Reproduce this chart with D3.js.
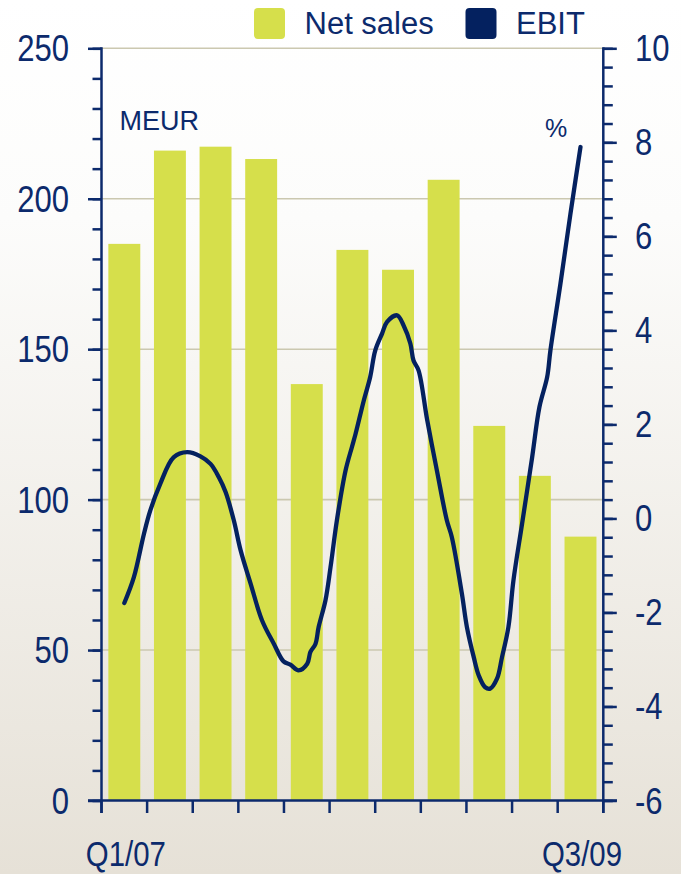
<!DOCTYPE html>
<html><head><meta charset="utf-8">
<script src="https://cdn.jsdelivr.net/npm/d3@7"></script>
<style>html,body{margin:0;padding:0;background:#fff;} svg{display:block;}</style>
</head><body><svg id="c" width="681" height="874"></svg>
<script>
// ---- data ----
const quarters = ["Q1/07","Q2/07","Q3/07","Q4/07","Q1/08","Q2/08","Q3/08","Q4/08","Q1/09","Q2/09","Q3/09"];
const netSales = [185, 216, 217.3, 213.2, 138.4, 183, 176.4, 206.3, 124.5, 107.9, 87.7];
const ebitPos = [0, 0.21, 0.43, 0.57, 0.79, 1.08, 1.38, 1.67, 1.89, 2.07, 2.22, 2.40, 2.55, 2.77, 3.02, 3.28, 3.49, 3.64, 3.82, 4.01, 4.08, 4.19, 4.26, 4.41, 4.52, 4.66, 4.85, 4.99, 5.07, 5.25, 5.39, 5.50, 5.65, 5.76, 5.98, 6.12, 6.27, 6.34, 6.45, 6.64, 6.86, 7.07, 7.18, 7.40, 7.51, 7.66, 7.77, 7.91, 8.02, 8.17, 8.28, 8.42, 8.53, 8.72, 8.94, 9.10, 9.27, 9.34, 9.56, 9.78, 10];
const ebitPct = [-1.80, -1.25, -0.33, 0.17, 0.74, 1.30, 1.41, 1.32, 1.16, 0.88, 0.56, -0.04, -0.68, -1.39, -2.17, -2.67, -3.04, -3.11, -3.23, -3.09, -2.84, -2.67, -2.31, -1.74, -1.04, -0.04, 1.02, 1.52, 1.80, 2.51, 3.01, 3.57, 3.93, 4.18, 4.32, 4.11, 3.72, 3.36, 3.15, 2.09, 0.98, -0.04, -0.40, -1.60, -2.31, -2.95, -3.34, -3.59, -3.62, -3.41, -2.95, -2.31, -1.32, -0.11, 1.30, 2.37, 3.01, 3.57, 4.99, 6.48, 7.90];
const leftTicks = [0, 50, 100, 150, 200, 250];
const rightTicks = [-6, -4, -2, 0, 2, 4, 6, 8, 10];
const xLabels = ["Q1/07", "Q3/09"];
const legendItems = ["Net sales", "EBIT"];
const leftUnit = "MEUR", rightUnit = "%";

// ---- styles ----
const NAVY = "#0c2a6c", LINE = "#04215f", BAR = "#d6df4b", GRID = "#cbc8b0";
const REG = "'Liberation Sans',Arial,sans-serif";
const NARROW_SCALE = 0.84;

const svg = d3.select("#c");
const defs = svg.append("defs");
const grad = defs.append("linearGradient").attr("id","bg").attr("x1",0).attr("y1",0).attr("x2",0).attr("y2",1);
grad.append("stop").attr("offset","0%").attr("stop-color","#ffffff");
grad.append("stop").attr("offset","25%").attr("stop-color","#fcfcfb");
grad.append("stop").attr("offset","100%").attr("stop-color","#e6e1d7");
svg.append("rect").attr("width",681).attr("height",874).attr("fill","url(#bg)");

const x = d3.scaleBand(quarters, [101.5, 603.3]).paddingInner(0.3).paddingOuter(0.15);
const yL = d3.scaleLinear([0, 250], [800.5, 48.3]);
const yR = d3.scaleLinear([-6, 10], [800.5, 48.3]);
const xt = d3.scaleLinear([0, quarters.length - 1],
  [x(quarters[0]) + x.bandwidth()/2, x(quarters[quarters.length-1]) + x.bandwidth()/2]);

// narrow text helper (condensed look via horizontal scaling)
function narrowText(parent, data, px, py, anchor, size, fmt) {
  const g = parent.append("g").selectAll("g").data(data).join("g")
    .attr("transform", d => `translate(${px(d)},${py(d)}) scale(${NARROW_SCALE},1)`);
  g.append("text").attr("text-anchor", anchor).attr("fill", NAVY)
    .style("font-family", REG).style("font-size", size + "px").text(fmt);
  return g;
}

// gridlines
svg.append("g").selectAll("line").data(leftTicks.filter(d => d > 0)).join("line")
  .attr("x1", 101.5).attr("x2", 603.3).attr("y1", d => yL(d)).attr("y2", d => yL(d))
  .attr("stroke", GRID).attr("stroke-width", 1.6);

// bars
svg.append("g").selectAll("rect").data(quarters).join("rect")
  .attr("x", d => x(d)).attr("width", x.bandwidth())
  .attr("y", (d,i) => yL(netSales[i])).attr("height", (d,i) => yL(0) - yL(netSales[i]))
  .attr("fill", BAR);

// EBIT line
const pts = ebitPos.map((p,i) => [p, ebitPct[i]]);
svg.append("path").datum(pts)
  .attr("d", d3.line().x(d => xt(d[0])).y(d => yR(d[1])).curve(d3.curveCatmullRom.alpha(0.5)))
  .attr("fill","none").attr("stroke", LINE).attr("stroke-width", 4.3).attr("stroke-linecap","round").attr("stroke-linejoin","round");

function styleAxis(g) {
  g.select(".domain").remove();
  g.selectAll(".tick line").attr("stroke", NAVY).attr("stroke-width", 2.5);
  g.selectAll("text").remove();
}

// left axis
svg.append("g").attr("transform","translate(101.5,0)")
  .call(d3.axisLeft(yL).tickValues(d3.range(0, 251, 10)).tickSize(9))
  .call(styleAxis);
svg.append("g").attr("transform","translate(101.5,0)")
  .call(d3.axisLeft(yL).tickValues(leftTicks).tickSize(13.5))
  .call(styleAxis);
svg.append("line").attr("x1",101.5).attr("x2",101.5).attr("y1",yL(250)-1).attr("y2",813)
  .attr("stroke",NAVY).attr("stroke-width",2.5);
narrowText(svg, leftTicks, d => 69, d => yL(d) + 13, "end", 37, d => String(d));

// right axis
svg.append("g").attr("transform","translate(603.3,0)")
  .call(d3.axisRight(yR).tickValues(d3.range(0, 41).map(i => -6 + i*0.4)).tickSize(9.5))
  .call(styleAxis);
svg.append("g").attr("transform","translate(603.3,0)")
  .call(d3.axisRight(yR).tickValues(rightTicks).tickSize(13.5))
  .call(styleAxis);
svg.append("line").attr("x1",603.3).attr("x2",603.3).attr("y1",yR(10)-1).attr("y2",813)
  .attr("stroke",NAVY).attr("stroke-width",2.5);
narrowText(svg, rightTicks, d => 635, d => yR(d) + 13, "start", 37, d => String(d));

// x axis
svg.append("line").attr("x1",88).attr("x2",617).attr("y1",yL(0)).attr("y2",yL(0))
  .attr("stroke",NAVY).attr("stroke-width",2.5);
const bounds = d3.range(quarters.length + 1).map(i => x.range()[0] + i * x.step());
svg.append("g").selectAll("line").data(bounds).join("line")
  .attr("x1", d => d).attr("x2", d => d).attr("y1", yL(0)).attr("y2", 813)
  .attr("stroke", NAVY).attr("stroke-width", 2.5);
narrowText(svg, xLabels, d => x(d) + x.bandwidth()/2 + 1.5, d => 866, "middle", 35, d => d);

// unit labels
svg.append("text").attr("x",119.5).attr("y",130).attr("fill",NAVY)
  .style("font-family",REG).style("font-size","27px").text(leftUnit);
svg.append("text").attr("x",545).attr("y",137).attr("fill",NAVY)
  .style("font-family",REG).style("font-size","25px").text(rightUnit);

// legend
const legX = [254, 465.5], legColors = [BAR, LINE];
const leg = svg.append("g").selectAll("g").data(legendItems).join("g");
leg.append("rect").attr("x",(d,i)=>legX[i]).attr("y",8).attr("width",31).attr("height",31).attr("rx",4)
  .attr("fill",(d,i)=>legColors[i]);
leg.append("text").attr("x",(d,i)=>legX[i]+50.5).attr("y",34).attr("fill",NAVY)
  .style("font-family",REG).style("font-size","31px").text(d=>d);
</script>
</body></html>
